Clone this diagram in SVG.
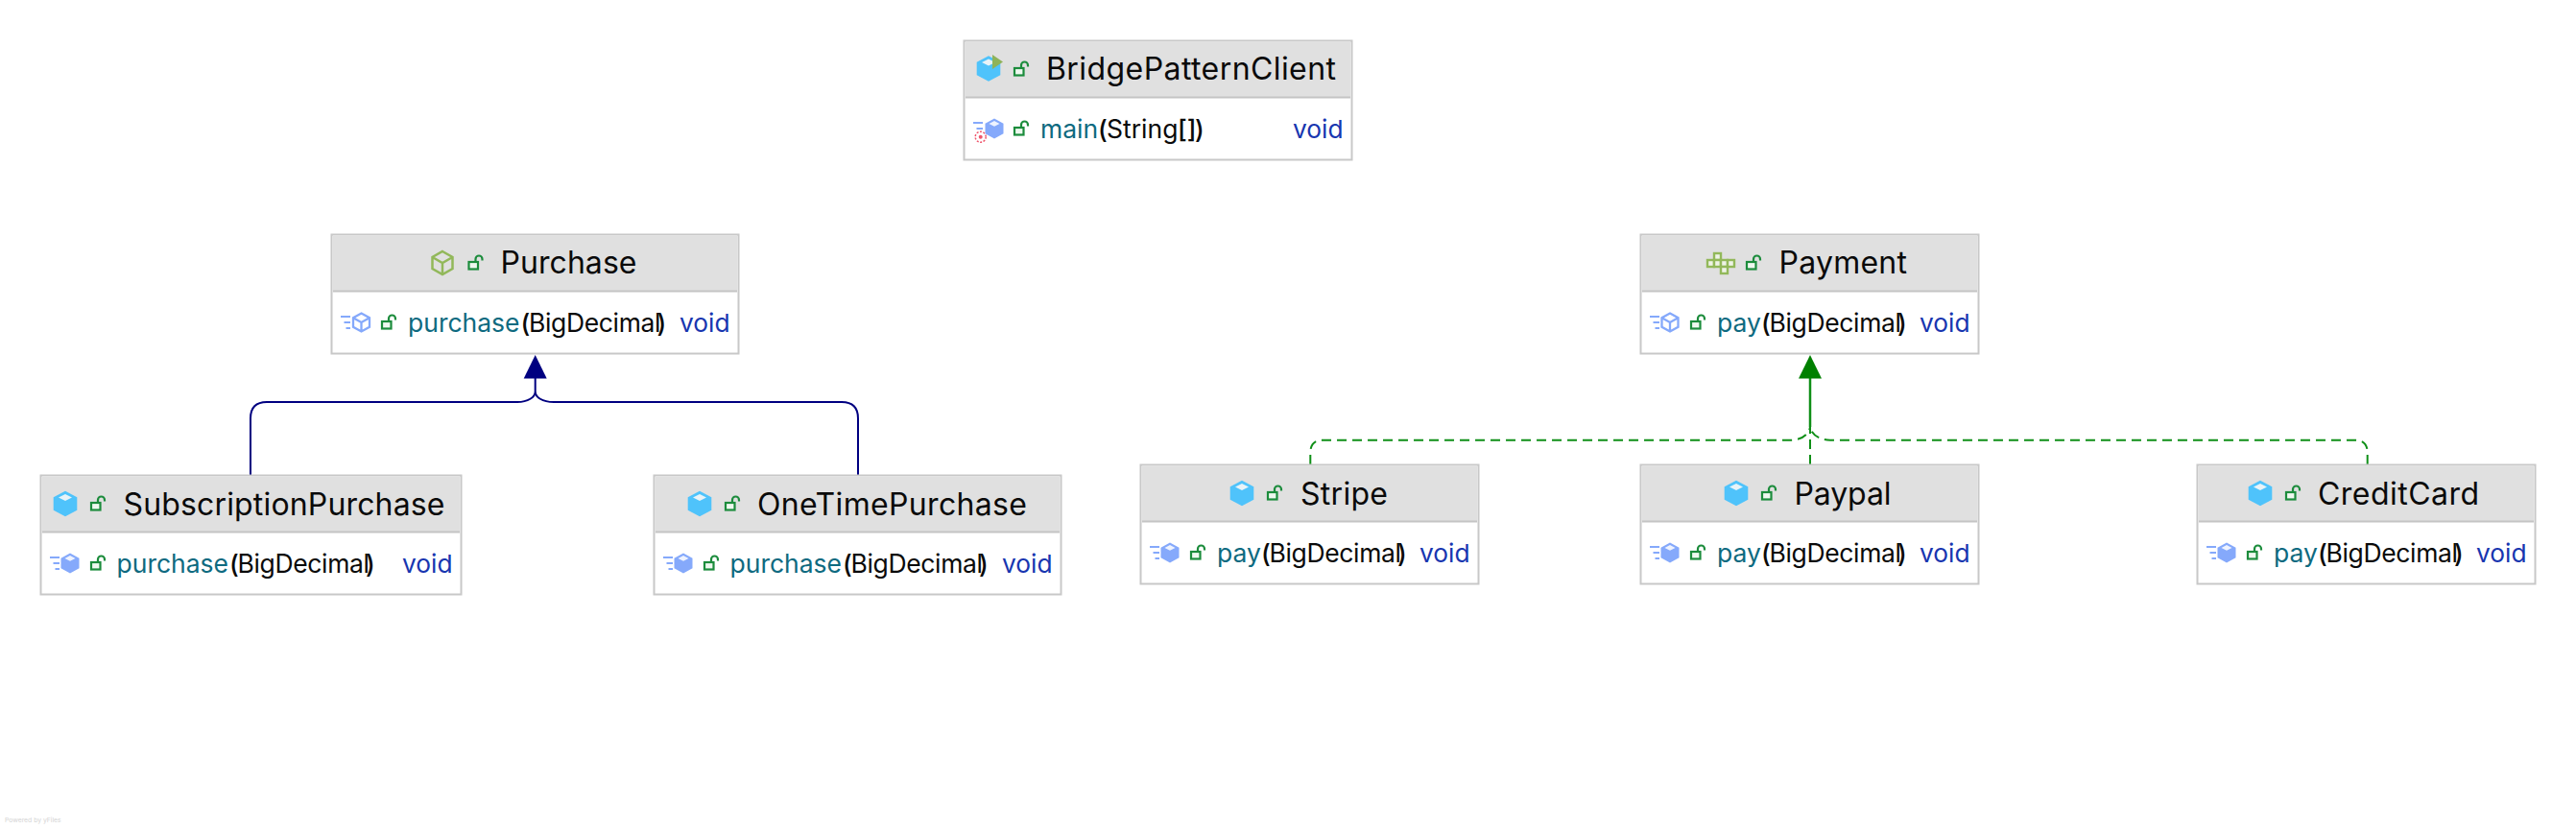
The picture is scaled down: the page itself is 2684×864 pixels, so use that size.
<svg xmlns="http://www.w3.org/2000/svg" width="2684" height="864" viewBox="0 0 2684 864">
<style>
text{font-family:Inter,"Noto Sans","Liberation Sans",sans-serif}
.box{fill:#fff;stroke:#c8c8c8;stroke-width:2}
.hd{fill:#e0e0e0}
.sep{stroke:#c4c4c4;stroke-width:2}
.t{font-size:32px;fill:#0a0a0a}
.mem{font-size:26.500px}
.m{fill:#0e6a80}
.a{fill:#0a0a0a}
.b{fill:#0a0a0a;letter-spacing:-.35px}
.p{fill:#0a0a0a;font-weight:500}
.v{font-size:26.300px;fill:#1736b0}
.blue{fill:none;stroke:#000080;stroke-width:2}
.grn{fill:none;stroke:#0f8f17;stroke-width:2;stroke-dasharray:10 6}
.pl{fill:#eef3e6;stroke:#92b85a;stroke-width:2.400}
</style>
<defs>
<g id="cube"><path d="M0-13.300 12.300-6.700V6.700L0 13.300-12.300 6.700V-6.700Z" fill="#4fc3fb"/><path d="M0-10 7-6.500 0-3-7-6.500Z" fill="#e8f3f8"/></g>
<g id="mcube"><path d="M0-10.500 9.500-5.300V5.300L0 10.500-9.500 5.300V-5.300Z" fill="#85a9fb"/><path d="M0-8 5.500-5 0-2.200-5.500-5Z" fill="#eef3ff"/></g>
<g id="ocube" fill="none" stroke="#92b85a" stroke-width="2.500"><path d="M0-12 10.500-6V6L0 12-10.500 6V-6ZM-10.500-6 0 0 10.500-6M0 0V12"/></g>
<g id="mocube" fill="none" stroke="#85a9fb" stroke-width="2.300"><path d="M0-9.500 8.500-4.800V4.800L0 9.500-8.500 4.800V-4.800ZM-8.500-4.800 0 0 8.500-4.800M0 0V9.500"/></g>
<g id="lock" fill="#eef8ef" stroke="#1c8c3c" stroke-width="2.200"><rect x="-7" y="-1" width="9.500" height="7.500"/><path d="M0-1V-4A3.500 3.500 0 0 1 7-4V-2.500" fill="none"/></g>
<g id="st" stroke="#85a9fb" stroke-width="2" fill="none"><path d="M0-6H10M3.500 0H10M5.500 6H10"/></g>
</defs>
<g id="connectors">
<path class="blue" d="M261 495V436Q261 419 278 419H539C550 419 557.700 414 557.700 408C557.700 414 565 419 577 419H877Q894 419 894 436V495M557.700 408V392"/>
<path d="M557.700 370 569.700 394.500H545.700Z" fill="#000080"/>
<path class="grn" d="M1365.300 484V472Q1365.300 458.700 1378 458.700H1866C1878 458.700 1885 452 1886 445"/>
<path class="grn" d="M2466.700 484V472Q2466.700 458.700 2454 458.700H1907C1895 458.700 1887 452 1886 445"/>
<path class="grn" d="M1886 484V392"/>
<path d="M1886 390V445" fill="none" stroke="#0f8f17" stroke-width="2.500"/>
<path d="M1886 370 1898 394.500H1874Z" fill="#008000"/>
</g>
<g id="BridgePatternClient">
<rect class="box" x="1004.500" y="42.500" width="404" height="124"/><rect class="hd" x="1006" y="44" width="401" height="57"/><path class="sep" d="M1006 101.500H1407"/>
<use href="#cube" x="1030" y="71.500"/><path d="M1034 57V72L1045 64.500Z" fill="#8fb35a"/>
<use href="#lock" x="1064" y="72"/><text class="t" x="1090" y="83" textLength="302">BridgePatternClient</text>
<use href="#st" x="1014" y="134"/><use href="#mcube" x="1036" y="134"/><circle cx="1021.700" cy="142.700" r="5.500" fill="#fff" stroke="#f0566c" stroke-width="1.500" stroke-dasharray="2 1.500"/><circle cx="1021.700" cy="142.700" r="2" fill="#f0566c"/>
<use href="#lock" x="1064" y="134"/>
<text class="mem" y="144"><tspan class="m" x="1084">main</tspan><tspan class="p" x="1144">(</tspan><tspan class="a" x="1153">String</tspan><tspan class="p" x="1227">[]</tspan><tspan class="p" x="1245">)</tspan></text><text class="v" x="1347" y="144">void</text>
</g>
<g id="Purchase">
<rect class="box" x="345.500" y="244.500" width="424" height="124"/><rect class="hd" x="347" y="246" width="421" height="57"/><path class="sep" d="M347 303.500H768"/>
<use href="#ocube" x="461" y="274"/><use href="#lock" x="495.500" y="274"/><text class="t" x="521.500" y="285" textLength="142">Purchase</text>
<use href="#st" x="355" y="336"/><use href="#mocube" x="376.500" y="336"/><use href="#lock" x="405" y="336"/>
<text class="mem" y="346"><tspan class="m" x="425">purchase</tspan><tspan class="p" x="542.500">(</tspan><tspan class="b" x="551">BigDecimal</tspan><tspan class="p" x="684.500">)</tspan></text><text class="v" x="708" y="346">void</text>
</g>
<g id="Payment">
<rect class="box" x="1709.500" y="244.500" width="352" height="124"/><rect class="hd" x="1711" y="246" width="349" height="57"/><path class="sep" d="M1711 303.500H2060"/>
<g><rect class="pl" x="1786" y="264" width="7" height="7"/><rect class="pl" x="1779" y="271" width="7" height="7"/><rect class="pl" x="1786" y="271" width="7" height="7"/><rect class="pl" x="1793" y="271" width="7" height="7"/><rect class="pl" x="1800" y="271" width="7" height="7"/><rect class="pl" x="1793" y="278" width="7" height="7"/></g>
<use href="#lock" x="1827" y="274"/><text class="t" x="1853.500" y="285" textLength="133.500">Payment</text>
<use href="#st" x="1719" y="336"/><use href="#mocube" x="1740" y="336"/><use href="#lock" x="1769" y="336"/>
<text class="mem" y="346"><tspan class="m" x="1789">pay</tspan><tspan class="p" x="1835">(</tspan><tspan class="b" x="1843.500">BigDecimal</tspan><tspan class="p" x="1977">)</tspan></text><text class="v" x="2000" y="346">void</text>
</g>
<g id="SubscriptionPurchase">
<rect class="box" x="42.500" y="495.500" width="438" height="124"/><rect class="hd" x="44" y="497" width="435" height="57"/><path class="sep" d="M44 554.500H479"/>
<use href="#cube" x="68" y="525"/><use href="#lock" x="102" y="525"/><text class="t" x="128.500" y="537" textLength="335">SubscriptionPurchase</text>
<use href="#st" x="52" y="587"/><use href="#mcube" x="73" y="587"/><use href="#lock" x="102" y="587"/>
<text class="mem" y="597"><tspan class="m" x="121.500">purchase</tspan><tspan class="p" x="239">(</tspan><tspan class="b" x="247.500">BigDecimal</tspan><tspan class="p" x="381">)</tspan></text><text class="v" x="419" y="597">void</text>
</g>
<g id="OneTimePurchase">
<rect class="box" x="681.500" y="495.500" width="424" height="124"/><rect class="hd" x="683" y="497" width="421" height="57"/><path class="sep" d="M683 554.500H1104"/>
<use href="#cube" x="729" y="525"/><use href="#lock" x="763" y="525"/><text class="t" x="789" y="537" textLength="281">OneTimePurchase</text>
<use href="#st" x="691" y="587"/><use href="#mcube" x="712" y="587"/><use href="#lock" x="741" y="587"/>
<text class="mem" y="597"><tspan class="m" x="760.500">purchase</tspan><tspan class="p" x="878">(</tspan><tspan class="b" x="886.500">BigDecimal</tspan><tspan class="p" x="1020">)</tspan></text><text class="v" x="1044" y="597">void</text>
</g>
<g id="Stripe">
<rect class="box" x="1188.500" y="484.500" width="352" height="124"/><rect class="hd" x="1190" y="486" width="349" height="57"/><path class="sep" d="M1190 543.500H1539"/>
<use href="#cube" x="1294" y="514"/><use href="#lock" x="1328" y="514"/><text class="t" x="1355" y="526" textLength="91">Stripe</text>
<use href="#st" x="1198" y="576"/><use href="#mcube" x="1219" y="576"/><use href="#lock" x="1248" y="576"/>
<text class="mem" y="586"><tspan class="m" x="1268">pay</tspan><tspan class="p" x="1314">(</tspan><tspan class="b" x="1322.500">BigDecimal</tspan><tspan class="p" x="1456">)</tspan></text><text class="v" x="1479" y="586">void</text>
</g>
<g id="Paypal">
<rect class="box" x="1709.500" y="484.500" width="352" height="124"/><rect class="hd" x="1711" y="486" width="349" height="57"/><path class="sep" d="M1711 543.500H2060"/>
<use href="#cube" x="1809" y="514"/><use href="#lock" x="1843" y="514"/><text class="t" x="1869.500" y="526" textLength="101">Paypal</text>
<use href="#st" x="1719" y="576"/><use href="#mcube" x="1740" y="576"/><use href="#lock" x="1769" y="576"/>
<text class="mem" y="586"><tspan class="m" x="1789">pay</tspan><tspan class="p" x="1835">(</tspan><tspan class="b" x="1843.500">BigDecimal</tspan><tspan class="p" x="1977">)</tspan></text><text class="v" x="2000" y="586">void</text>
</g>
<g id="CreditCard">
<rect class="box" x="2289.500" y="484.500" width="352" height="124"/><rect class="hd" x="2291" y="486" width="349" height="57"/><path class="sep" d="M2291 543.500H2640"/>
<use href="#cube" x="2355" y="514"/><use href="#lock" x="2389" y="514"/><text class="t" x="2415" y="526" textLength="168">CreditCard</text>
<use href="#st" x="2299" y="576"/><use href="#mcube" x="2320" y="576"/><use href="#lock" x="2349" y="576"/>
<text class="mem" y="586"><tspan class="m" x="2369">pay</tspan><tspan class="p" x="2415">(</tspan><tspan class="b" x="2423.500">BigDecimal</tspan><tspan class="p" x="2557">)</tspan></text><text class="v" x="2580" y="586">void</text>
</g>
<text x="5" y="857" font-size="6.800" fill="#d4d4d4">Powered by yFiles</text>
</svg>
